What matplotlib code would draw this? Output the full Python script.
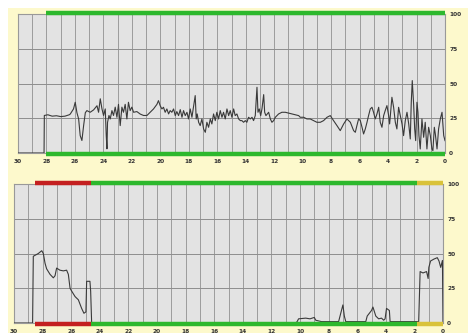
import matplotlib
matplotlib.use("Agg")
import matplotlib.pyplot as plt
from matplotlib.patches import Rectangle

# ---- data ----
top_x = [30, 28.17, 28.15, 27.9, 27.6, 27.3, 27.0, 26.7, 26.4, 26.33, 26.1, 25.98, 25.86, 25.74,
         25.63, 25.51, 25.39, 25.27, 25.16, 24.93, 24.69, 24.45, 24.34, 24.22, 24.1, 23.99, 23.87,
         23.8, 23.75, 23.71, 23.61, 23.52, 23.4, 23.29, 23.17, 23.05, 22.94, 22.82, 22.7, 22.59,
         22.47, 22.35, 22.24, 22.12, 22.0, 21.88, 21.65, 21.41, 21.18, 20.94, 20.71, 20.48, 20.24,
         20.13, 20.01, 19.89, 19.78,
         19.66, 19.54, 19.42, 19.31, 19.19, 19.07, 18.95, 18.84, 18.72, 18.6, 18.48, 18.37, 18.25,
         18.13, 18.02, 17.9, 17.78, 17.66, 17.55, 17.48, 17.41, 17.31, 17.2, 17.08, 16.96, 16.84,
         16.73, 16.61, 16.49, 16.38, 16.26, 16.14, 16.03, 15.91, 15.79, 15.67, 15.56, 15.44, 15.32,
         15.2, 15.09, 14.97, 14.85, 14.74, 14.62, 14.5, 14.38, 14.27, 14.15, 14.03, 13.92, 13.8,
         13.68, 13.56, 13.45, 13.33, 13.21, 13.14, 13.05, 12.95, 12.86, 12.74, 12.67, 12.58, 12.39,
         12.27, 12.16, 12.04, 11.92, 11.69, 11.46, 11.22, 10.75, 10.28,
         10.17, 9.93, 9.7, 9.47, 9.23, 9.0, 8.76, 8.53, 8.29, 8.06, 7.83, 7.59, 7.36, 7.12, 6.89,
         6.65, 6.42, 6.3, 6.19, 6.07, 5.95, 5.83, 5.72, 5.6, 5.48, 5.37, 5.25, 5.13, 5.02, 4.9,
         4.78, 4.66, 4.55, 4.43, 4.31, 4.2, 4.08, 3.96, 3.89, 3.8, 3.73, 3.61, 3.49, 3.38, 3.26,
         3.14, 3.02, 2.91, 2.79, 2.67, 2.55, 2.44, 2.37, 2.3, 2.2, 2.13, 2.06, 1.97, 1.9, 1.83,
         1.74, 1.62, 1.5, 1.39, 1.27, 1.15, 1.03, 0.92, 0.85, 0.75, 0.68, 0.56, 0.45, 0.33, 0.21,
         0.09, 0.0]
top_y = [0, 0, 27, 27.5, 26.5, 26.8, 26.2, 26.5, 27.5, 28, 31.7, 36.5, 29, 24.5,
         12.5, 9, 19.7, 29, 30.5, 29.3, 31, 34, 29.3, 39, 31.7, 27, 31.7,
         12.5, 3, 22, 27, 24.5, 30.5, 27, 33, 25.7, 35, 19.7, 33, 29.3,
         35, 24.5, 36.5, 30.5, 33, 29.3, 29.8, 28, 27, 27, 29.3, 31.7, 35,
         37.7, 34, 31.7, 32.9,
         29.3, 31.7, 28.1, 30.5, 29.3, 31.7, 26.9, 29.8, 26.9, 31.2, 25.7, 30.5, 26.9,
         29.3, 24.5, 31.7, 25.7, 34.1, 41.3, 24.5, 28.1, 22.1, 19.7, 24.5, 17.3, 14.9,
         22.1, 18.5, 24.5, 20.9, 28.1, 23.3, 29.3, 24.5, 30.5, 25.7, 29.3, 24.5, 31.7,
         26.9, 30.5, 25.7, 31.7, 26.9, 28.1, 24.5, 23.3, 23.3, 22.1, 23.3, 22.1, 25.7,
         24.5, 25.7, 23.3, 26.9, 47.3, 29.3, 31.7, 26.9, 31.7, 42, 29.3, 26.9, 29.3,
         24.5, 22.1, 23.3, 25.7, 28.1, 29.3, 29.3, 28.1, 26.9,
         25.7, 25.7, 24.5, 24.5, 23.3, 22.1, 22.1, 23.3, 25.7, 26.9, 23.3, 19.7, 16.1, 20.9, 24.5,
         22.1, 16.1, 14.9, 19.7, 24.5, 23.3, 18.5, 13.7, 17.3, 22.1, 26.9, 31.7, 32.9, 29.3, 24.5,
         28.1, 32.9, 22.1, 18.5, 26.9, 30.5, 34.1, 26.9, 20.9, 31.7, 40.1, 32.9, 22.1, 17.3, 32.9,
         26.9, 20.9, 12.5, 23.3, 29.3, 20.9, 10.1, 36.5, 52.1, 34.1, 17.3, 8.9, 36.5, 29.3, 12.5,
         2.9, 24.5, 11.3, 22.1, 2.9, 18.5, 12.5, 2.9, 1.7, 18.5, 13.7, 2.9, 17.3, 24.5, 29.3,
         12.5, 8.9]

bot_x = [30, 28.7, 28.65, 28.3, 28.06, 27.95, 27.83, 27.72, 27.48, 27.25, 27.13, 27.02, 26.79,
         26.55, 26.32, 26.2, 26.08, 25.97, 25.73, 25.5, 25.27, 25.11, 24.97, 24.92, 24.69, 24.64,
         24.57, 10.3, 10.2, 10.1, 9.6, 9.3, 9.0, 8.9, 8.5, 7.3, 7.2, 7.0, 6.9, 6.8, 5.4, 5.3, 5.0,
         4.9, 4.7, 4.5, 4.3, 4.15, 4.05, 3.95, 3.75, 3.7, 1.7, 1.6, 1.4, 1.15, 1.04, 0.99, 0.87,
         0.63, 0.4, 0.28, 0.16, 0.04, 0.0]
bot_y = [0, 0, 48, 50, 52, 50, 43, 39, 35, 32.5, 34, 39.5, 38,
         37.5, 38, 35, 25, 23, 19, 16.7, 10.5, 7, 8, 30, 30, 23,
         0, 0, 1, 3, 3.5, 3, 4, 2, 1, 1, 5, 13, 5, 1, 1, 5, 9,
         11.5, 5, 3, 3.5, 2, 3, 10.5, 9, 1, 1, 37, 36, 37, 32, 40, 44.6,
         46, 47, 44.6, 40, 45, 0]

# status bars: (start, end, color)
top_status = [(28.0, 0.0, "#2db82d")]
bot_status = [(28.5, 24.6, "#c42020"), (24.6, 1.8, "#2db82d"), (1.8, 0.0, "#d9c23a")]

x_ticks = list(range(30, -1, -2))
y_ticks = [0, 25, 50, 75, 100]

W, H = 468, 333
fig = plt.figure(figsize=(W / 100, H / 100), dpi=100, facecolor="white")
fig.patches.append(Rectangle((8 / W, 0), 1 - 8 / W, 1 - 8 / H, transform=fig.transFigure,
                             facecolor="#fdf9cc", edgecolor="none", zorder=-10))


def panel(rect, xs, ys, status):
    ax = fig.add_axes(rect)
    ax.set_facecolor("#e3e3e3")
    ax.set_xlim(30, 0)
    ax.set_ylim(0, 100)
    for v in range(0, 31):
        ax.axvline(v, color="#9c9c9c", lw=0.7, zorder=1)
    for v in y_ticks:
        ax.axhline(v, color="#8e8e8e", lw=0.7, zorder=1)
    ax.plot(xs, ys, color="#3a3a3a", lw=0.8, zorder=3)
    for s, e, c in status:
        ax.plot([s, e], [100.8, 100.8], color=c, lw=3.2, solid_capstyle="butt",
                clip_on=False, zorder=5)
        ax.plot([s, e], [-0.8, -0.8], color=c, lw=3.2, solid_capstyle="butt",
                clip_on=False, zorder=5)
    ax.set_xticks(x_ticks)
    ax.set_xticklabels([str(t) for t in x_ticks])
    ax.set_yticks(y_ticks)
    ax.yaxis.tick_right()
    ax.tick_params(axis="both", length=0, labelsize=4.2, colors="#333333")
    ax.tick_params(axis="x", pad=4)
    ax.tick_params(axis="y", pad=3)
    for lab in ax.get_xticklabels() + ax.get_yticklabels():
        lab.set_fontweight("bold")
    for sp in ax.spines.values():
        sp.set_color("#999999")
        sp.set_linewidth(0.8)
    return ax


panel([18 / W, 1 - 153 / H, 427 / W, 139 / H], top_x, top_y, top_status)
panel([14 / W, 1 - 323 / H, 429 / W, 139 / H], bot_x, bot_y, bot_status)

fig.savefig("out.png", dpi=100, facecolor=fig.get_facecolor())
